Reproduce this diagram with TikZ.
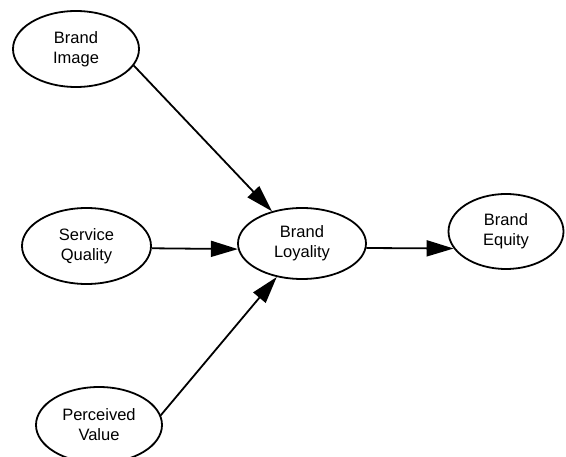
\documentclass[tikz,border=0pt]{standalone}
\usepackage{fontspec}
\setmainfont{Liberation Sans}
\usetikzlibrary{arrows.meta,shapes.geometric}

\begin{document}
\begin{tikzpicture}[x=1pt,y=-1pt,>={Triangle[length=27pt,width=16pt]},line width=1.8pt,
  construct/.style={draw,ellipse,inner sep=0pt,align=center,
    font=\fontsize{16.5}{20}\selectfont}]
  \useasboundingbox (0,0) rectangle (566,457);

  \node[construct, minimum width=126pt, minimum height=76pt] (image)   at (76,49)      {Brand\\Image};
  \node[construct, minimum width=129pt, minimum height=76pt] (service) at (86.5,246)   {Service\\Quality};
  \node[construct, minimum width=126pt, minimum height=76pt] (value)   at (99,425)     {Perceived\\Value};
  \node[construct, minimum width=128pt, minimum height=71pt] (loyal)   at (302,243.5)  {Brand\\Loyality};
  \node[construct, minimum width=115pt, minimum height=75pt] (equity)  at (506,231.5)  {Brand\\Equity};

  \path[->]
  (image.-16)  edge (loyal.133)
  (service.-2) edge (loyal.185)
  (value.9)    edge (loyal.233)
  (loyal.-4)   edge (equity.198)
;

\end{tikzpicture}
\end{document}
